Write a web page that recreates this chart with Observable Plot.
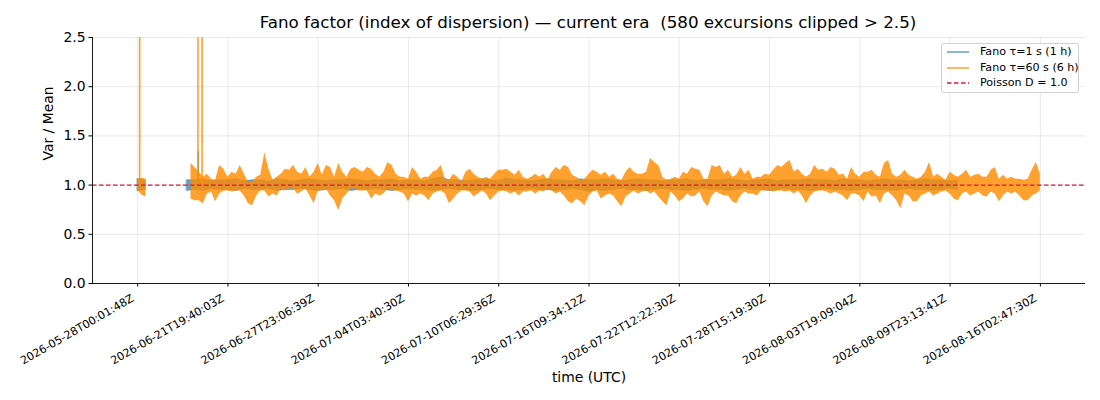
<!DOCTYPE html>
<html>
<head>
<meta charset="utf-8">
<script src="https://cdn.jsdelivr.net/npm/d3@7"></script>
<script src="https://cdn.jsdelivr.net/npm/@observablehq/plot@0.6"></script>
<style>
  html, body { margin: 0; padding: 0; background: #fff; }
  body { font-family: "DejaVu Sans", sans-serif; }
  #wrap { position: relative; width: 1100px; height: 400px; overflow: hidden; }
  #title { height: 27px; box-sizing: border-box; padding-top: 12px; line-height: 20px; font-size: 16.7px; text-align: center; padding-left: 76px; color: #000; white-space: pre; }
  #legend { position: absolute; left: 941px; top: 43px; width: 138px; height: 50px; box-sizing: border-box; border: 1px solid #d0d0d0; border-radius: 3px; background: rgba(255,255,255,0.8); font-size: 11.1px; }
  .row { position: absolute; left: 4px; height: 14px; line-height: 14px; white-space: nowrap; }
  .row svg { position: absolute; left: 0; top: 1px; }
  .row span { position: absolute; left: 34px; top: 0; }
  svg.plot { overflow: visible; }
</style>
</head>
<body>
<div id="wrap">
  <div id="title">Fano factor (index of dispersion) — current era  (580 excursions clipped &gt; 2.5)</div>
  <div id="chart"></div>
  <div id="legend"></div>
</div>
<script>
// ---- tick positions (sample index) and labels ----
const tickIdx = [0, 22, 44, 66, 88, 110, 132, 154, 176, 198, 220];
const tickLabels = [
  "2026-05-28T00:01:48Z", "2026-06-21T19:40:03Z", "2026-06-27T23:06:39Z",
  "2026-07-04T03:40:30Z", "2026-07-10T06:29:36Z", "2026-07-16T09:34:12Z",
  "2026-07-22T12:22:30Z", "2026-07-28T15:19:30Z", "2026-08-03T19:09:04Z",
  "2026-08-09T23:13:41Z", "2026-08-16T02:47:30Z"
];
const yTicks = [0, 0.5, 1.0, 1.5, 2.0, 2.5];

// ---- Fano tau=60 s (6 h): local max / min per sample (null = no data) ----
const orangeHi = [
  1.06,1.07,1.06,null,null,null,null,null,null,null,null,null,null,
  1.22,1.18,1.13,1.08,1.11,1.06,1.05,1.20,1.16,1.08,1.13,1.11,1.20,1.11,1.03,1.03,1.08,1.10,
  1.33,1.16,1.05,1.08,1.11,1.16,1.15,1.20,1.13,1.11,1.18,1.08,1.13,1.22,1.10,1.20,1.18,1.08,
  1.22,1.13,1.08,1.16,1.18,1.15,1.13,1.18,1.16,1.11,1.08,1.13,1.23,1.20,1.11,1.08,1.08,1.06,
  1.18,1.13,1.06,1.08,1.08,1.13,1.15,1.20,1.06,1.05,1.11,1.08,1.03,1.13,1.16,1.11,1.08,1.06,
  1.08,1.06,1.11,1.15,1.15,1.16,1.13,1.10,1.15,1.08,1.06,1.08,1.11,1.08,1.11,1.05,1.13,1.18,
  1.15,1.20,1.18,1.10,1.08,1.05,1.06,1.11,1.15,1.13,1.10,1.13,1.08,1.11,1.06,1.05,1.13,1.18,
  1.13,1.11,1.11,1.13,1.27,1.23,1.20,1.08,1.05,1.06,1.08,1.06,1.13,1.11,1.18,1.16,1.15,1.06,
  1.06,1.20,1.18,1.20,1.11,1.15,1.08,1.10,1.18,1.11,1.15,1.06,1.08,1.08,1.11,1.10,1.15,1.20,
  1.18,1.22,1.25,1.13,1.16,1.11,1.08,1.11,1.20,1.15,1.16,1.13,1.18,1.16,1.10,1.11,1.06,1.18,
  1.11,1.08,1.13,1.13,1.15,1.10,1.08,1.22,1.25,1.11,1.08,1.10,1.15,1.10,1.08,1.06,1.08,1.13,
  1.23,1.08,1.11,1.08,1.05,1.13,1.10,1.08,1.11,1.15,1.08,1.10,1.11,1.08,1.08,1.15,1.18,1.06,
  1.10,1.06,1.08,1.06,1.06,1.05,1.06,1.15,1.23,1.11
];
const orangeLo = [
  0.95,0.90,0.88,null,null,null,null,null,null,null,null,null,null,
  0.86,0.84,0.84,0.81,0.91,0.93,0.83,0.91,0.94,0.94,0.93,0.94,0.94,0.89,0.81,0.79,0.89,0.94,
  0.94,0.88,0.91,0.89,0.96,0.94,0.96,0.96,0.91,0.93,0.96,0.89,0.81,0.94,0.94,0.96,0.89,0.84,
  0.74,0.86,0.91,0.96,0.96,0.94,0.94,0.94,0.86,0.91,0.89,0.91,0.96,0.94,0.94,0.93,0.91,0.83,
  0.91,0.89,0.91,0.89,0.84,0.91,0.93,0.94,0.91,0.81,0.86,0.91,0.94,0.94,0.93,0.88,0.91,0.94,
  0.91,0.84,0.89,0.93,0.94,0.93,0.91,0.93,0.89,0.93,0.93,0.94,0.91,0.94,0.93,0.96,0.94,0.91,
  0.93,0.89,0.83,0.81,0.86,0.83,0.79,0.89,0.93,0.94,0.86,0.89,0.91,0.89,0.83,0.78,0.88,0.91,
  0.94,0.91,0.93,0.94,0.91,0.93,0.88,0.83,0.79,0.93,0.89,0.83,0.86,0.91,0.88,0.89,0.93,0.83,
  0.78,0.89,0.93,0.91,0.89,0.89,0.83,0.81,0.89,0.93,0.91,0.91,0.89,0.94,0.94,0.94,0.93,0.94,
  0.94,0.93,0.94,0.91,0.94,0.89,0.81,0.89,0.93,0.94,0.94,0.93,0.91,0.93,0.91,0.89,0.84,0.91,
  0.91,0.89,0.83,0.93,0.88,0.89,0.81,0.91,0.93,0.89,0.84,0.76,0.91,0.89,0.83,0.83,0.89,0.91,
  0.93,0.89,0.91,0.93,0.94,0.91,0.86,0.84,0.91,0.93,0.89,0.91,0.93,0.89,0.88,0.93,0.91,0.83,
  0.89,0.93,0.91,0.93,0.89,0.84,0.84,0.89,0.91,0.94
];

// ---- Fano tau=1 s (1 h): local max / min every 2 samples (index = 2*j) ----
const blueHi = [
  1.06,1.05,null,null,null,null,
  1.05,1.05,1.06,1.04,1.05,1.05,1.06,1.04,1.05,1.05,1.04,1.06,1.05,1.04,1.05,1.06,1.05,1.04,
  1.05,1.05,1.06,1.05,1.04,1.05,1.05,1.06,1.04,1.05,1.05,1.04,1.06,1.08,1.05,1.05,1.04,1.05,
  1.06,1.05,1.04,1.07,1.05,1.05,1.04,1.05,1.06,1.05,1.05,1.04,1.06,1.05,1.05,1.06,1.05,1.04,
  1.05,1.06,1.05,1.05,1.04,1.05,1.05,1.06,1.04,1.05,1.05,1.05,1.06,1.05,1.04,1.05,1.05,1.06,
  1.04,1.05,1.05,1.05,1.06,1.05,1.05,1.04,1.06,1.05,1.05,1.04,1.05,1.06,1.05,1.05,1.04,1.05,
  1.06,1.05,1.05,1.04,1.05
];
const blueLo = [
  0.94,0.95,null,null,null,null,
  0.94,0.95,0.94,0.96,0.95,0.95,0.94,0.96,0.95,0.95,0.96,0.94,0.95,0.95,0.96,0.95,0.94,0.95,
  0.95,0.96,0.94,0.95,0.95,0.96,0.95,0.94,0.95,0.96,0.95,0.95,0.94,0.95,0.96,0.95,0.95,0.94,
  0.95,0.96,0.95,0.95,0.94,0.95,0.96,0.95,0.95,0.94,0.95,0.96,0.95,0.93,0.95,0.94,0.95,0.96,
  0.95,0.95,0.94,0.95,0.96,0.95,0.95,0.94,0.95,0.96,0.95,0.95,0.94,0.95,0.96,0.95,0.95,0.94,
  0.95,0.96,0.95,0.95,0.94,0.95,0.96,0.95,0.95,0.94,0.95,0.96,0.95,0.95,0.94,0.95,0.96,0.95,
  0.95,0.94,0.95,0.96,0.95
];

// ---- clipped excursions (> 2.5) and a single tau=1 s spike ----
const orangeSpikeIdx = [0.5, 14.7, 15.7];
const orangeSpikeTop = [2.5, 2.5, 2.5];
const blueSpikeIdx = [14.8];
const blueSpikeTop = [1.34];

const poisson = 1.0;

// ---- tables built from the arrays ----
const orange = orangeHi.map((h, i) => ({x: i, hi: h, lo: orangeLo[i]}));
const blue = blueHi.map((h, j) => ({x: 2 * j, hi: h, lo: blueLo[j]}));
const oSpikes = orangeSpikeIdx.map((x, i) => ({x, top: orangeSpikeTop[i]}));
const bSpikes = blueSpikeIdx.map((x, i) => ({x, top: blueSpikeTop[i]}));

const xDomain = [-11, 231];
const BLUE = "#1f77b4", ORANGE = "#ff8c00";

const chart = Plot.plot({
  width: 1100,
  height: 373,
  marginTop: 10,
  marginBottom: 117,
  marginLeft: 92,
  marginRight: 15,
  style: {fontFamily: "DejaVu Sans, sans-serif", fontSize: "13.9px", color: "#000", background: "transparent"},
  x: {domain: xDomain, label: null},
  y: {domain: [0, 2.5], label: null},
  marks: [
    Plot.gridY(yTicks, {stroke: "#b0b0b0", strokeOpacity: 0.35, strokeWidth: 0.8}),
    Plot.gridX(tickIdx, {stroke: "#b0b0b0", strokeOpacity: 0.35, strokeWidth: 0.8}),
    Plot.areaY(blue, {x: "x", y1: "lo", y2: "hi", fill: BLUE, fillOpacity: 0.7, stroke: BLUE, strokeOpacity: 0.7, strokeWidth: 0.6, curve: "linear"}),
    Plot.ruleX(bSpikes, {x: "x", y1: poisson, y2: "top", stroke: BLUE, strokeOpacity: 0.7, strokeWidth: 1.5}),
    Plot.areaY(orange, {x: "x", y1: "lo", y2: "hi", fill: ORANGE, fillOpacity: 0.82, curve: "linear"}),
    Plot.ruleX(oSpikes, {x: "x", y1: poisson, y2: "top", stroke: ORANGE, strokeOpacity: 0.82, strokeWidth: 1.6}),
    Plot.ruleY([poisson], {stroke: "crimson", strokeWidth: 1.2, strokeDasharray: "4.5,2.5"}),
    Plot.ruleX([xDomain[0]], {stroke: "#000", strokeWidth: 0.9}),
    Plot.ruleY([0], {stroke: "#000", strokeWidth: 0.9}),
    Plot.axisY({ticks: yTicks, tickFormat: d => d.toFixed(1), tickSize: 3.5, tickPadding: 3.5, fontSize: 13.9, label: null}),
    Plot.axisX({ticks: tickIdx, tickFormat: () => "", tickSize: 3.5, label: null}),
    Plot.text(tickIdx, {x: d => d, frameAnchor: "bottom", text: (d, i) => tickLabels[i], rotate: -30, textAnchor: "end", dx: -3, dy: 17, fontSize: 11.1}),
    Plot.text(["Var / Mean"], {frameAnchor: "left", rotate: -90, dx: -44, fontSize: 13.9}),
    Plot.text(["time (UTC)"], {frameAnchor: "bottom", dy: 98, fontSize: 13.9})
  ]
});
document.getElementById("chart").appendChild(chart);

// ---- legend ----
const legendItems = [
  {label: "Fano τ=1 s (1 h)", color: BLUE, op: 0.7, dash: null},
  {label: "Fano τ=60 s (6 h)", color: ORANGE, op: 0.82, dash: null},
  {label: "Poisson D = 1.0", color: "crimson", op: 1, dash: "4.5,2.5"}
];
const leg = document.getElementById("legend");
legendItems.forEach((d, k) => {
  const row = document.createElement("div");
  row.className = "row";
  row.style.top = (1 + k * 15.5) + "px";
  row.innerHTML = `<svg width="24" height="12"><line x1="1" x2="23" y1="6" y2="6" stroke="${d.color}" stroke-opacity="${d.op}" stroke-width="1.5" ${d.dash ? `stroke-dasharray="${d.dash}"` : ""}/></svg><span>${d.label}</span>`;
  leg.appendChild(row);
});
</script>
</body>
</html>
